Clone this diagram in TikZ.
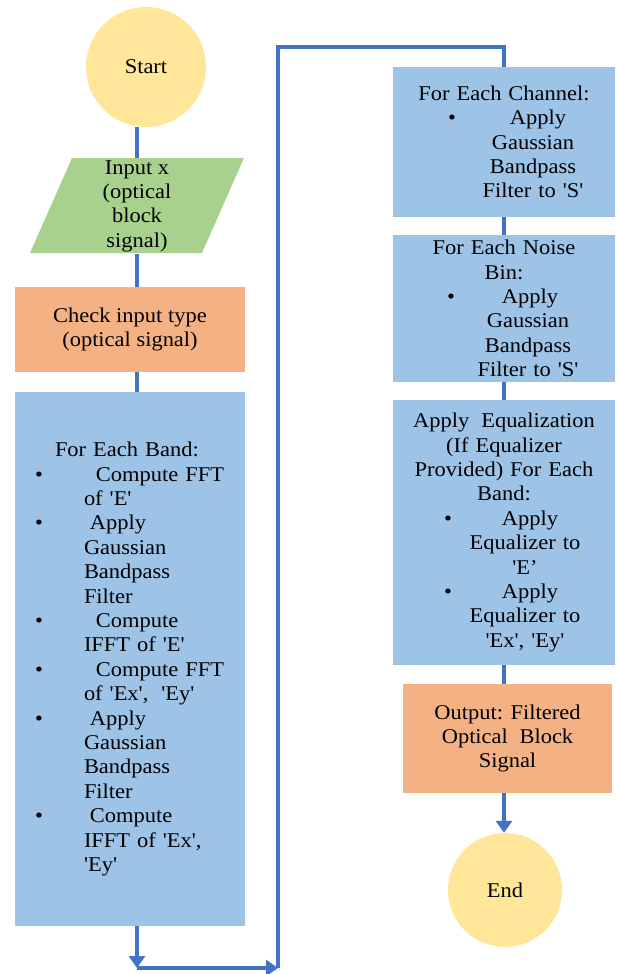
\documentclass[tikz,border=0pt]{standalone}
\usepackage{fontspec}
\setmainfont{Liberation Serif}[Ligatures=TeXOff, FakeStretch=1.07]
\usetikzlibrary{arrows.meta}

\definecolor{termyellow}{HTML}{FFE699}
\definecolor{inpgreen}{HTML}{A9D18E}
\definecolor{stepor}{HTML}{F4B183}
\definecolor{stepblue}{HTML}{9DC3E6}
\definecolor{flowblue}{HTML}{4472C4}

\newcommand{\flowfont}{\fontsize{21}{24.4}\selectfont}
% bullet lines of the left box
\newcommand{\blt}[1]{\hspace*{20pt}\makebox[49pt][l]{\textbullet}\hspace*{#1}}
\newcommand{\ind}{\hspace*{69pt}}
% bullet lines of the right boxes (200pt wide, centred in the 222pt box)
\newcommand{\rtxt}[2]{\makebox[200pt][c]{\hspace*{#1}#2}}
\newcommand{\rbtxt}[3]{\makebox[200pt][l]{\rlap{\hspace*{#1}\textbullet}\makebox[200pt][c]{\hspace*{#2}#3}}}

\begin{document}
\begin{tikzpicture}[x=1pt, y=-1pt,
  flow/.style={draw=flowblue, line width=3.5pt},
  tip/.style={-{Triangle[width=16pt,length=12pt]}},
  term/.style={circle, fill=termyellow, inner sep=0pt, font=\flowfont},
  orbox/.style={fill=stepor, inner sep=0pt, align=center, font=\flowfont},
  bluebox/.style={fill=stepblue, inner sep=0pt, text width=222pt, align=center, font=\flowfont}]
  \useasboundingbox (0,0) rectangle (617,974);

  % left column
  \node[term, minimum size=120pt] (start) at (146,67) {Start};

  \fill[inpgreen] (72,158) -- (244,158) -- (202,253) -- (30,253) -- cycle;
  \node[inner sep=0pt, minimum height=95pt, align=center, font=\flowfont] (input) at (137,206) {Input x\\(optical\\block\\signal)};

  \node[orbox, minimum width=230pt, minimum height=85pt] (check) at (130,329.5) {Check input type\\(optical signal)};

  \node[fill=stepblue, inner sep=0pt, text width=230pt, minimum height=534pt, align=left, font=\flowfont] (band) at (130,659) {%
    \hspace*{40pt}For Each Band:\\
    \blt{12pt}Compute FFT\\
    \ind of 'E'\\
    \blt{6pt}Apply\\
    \ind Gaussian\\
    \ind Bandpass\\
    \ind Filter\\
    \blt{12pt}Compute\\
    \ind IFFT of 'E'\\
    \blt{12pt}Compute FFT\\
    \ind of 'Ex',\hspace{6pt} 'Ey'\\
    \blt{6pt}Apply\\
    \ind Gaussian\\
    \ind Bandpass\\
    \ind Filter\\
    \blt{6pt}Compute\\
    \ind IFFT of 'Ex',\\
    \ind 'Ey'\\[8pt]};

  % right column
  \node[bluebox, minimum height=150pt] (chan) at (504,142) {%
    For Each Channel:\\
    \rbtxt{44pt}{68pt}{Apply}\\
    \rtxt{58pt}{Gaussian}\\
    \rtxt{58pt}{Bandpass}\\
    \rtxt{58pt}{Filter to 'S'}};

  \node[bluebox, minimum height=147pt] (noise) at (504,308.5) {%
    For Each Noise\\
    Bin:\\
    \rbtxt{43pt}{52pt}{Apply}\\
    \rtxt{48pt}{Gaussian}\\
    \rtxt{48pt}{Bandpass}\\
    \rtxt{48pt}{Filter to 'S'}};

  \node[bluebox, minimum height=265pt] (eq) at (504,532.5) {%
    Apply\hspace{5pt} Equalization\\
    (If Equalizer\\
    Provided) For Each\\
    Band:\\
    \rbtxt{40pt}{52pt}{Apply}\\
    \rtxt{42pt}{Equalizer to}\\
    \rtxt{42pt}{'E’}\\
    \rbtxt{40pt}{52pt}{Apply}\\
    \rtxt{42pt}{Equalizer to}\\
    \rtxt{42pt}{'Ex', 'Ey'}};

  \node[orbox, minimum width=209pt, minimum height=109pt] (out) at (507.5,738.5) {Output: Filtered\\Optical\hspace{6pt} Block\\Signal};

  \node[term, minimum size=114pt] (end) at (505,890) {End};

  % connectors
  \coordinate (c1) at (137,968);
  \coordinate (c2) at (278,968);
  \coordinate (c3) at (278,47);
  \draw[flow] (start.south -| input.north) -- (input.north);
  \draw[flow] (input.south) -- (input.south |- check.north);
  \draw[flow] (input.south |- check.south) -- (input.south |- band.north);
  \draw[flow, tip] (input.south |- band.south) -- (c1);
  \draw[flow, tip] (c1) -- (c2);
  \draw[flow] (c2) -- (c3) -| (chan.north);
  \draw[flow] (chan.south) -- (noise.north);
  \draw[flow] (noise.south) -- (eq.north);
  \draw[flow] (eq.south) -- (eq.south |- out.north);
  \draw[flow, tip] (eq.south |- out.south) -- (eq.south |- end.north);
\end{tikzpicture}
\end{document}
